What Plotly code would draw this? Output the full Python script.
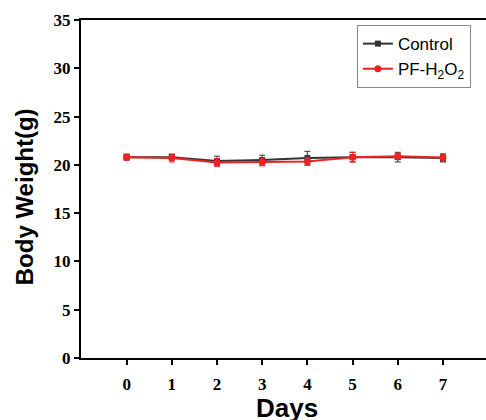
import plotly.graph_objects as go

days = [0, 1, 2, 3, 4, 5, 6, 7]
control = [20.8, 20.8, 20.4, 20.5, 20.7, 20.8, 20.8, 20.7]
control_err = [0.3, 0.3, 0.5, 0.5, 0.7, 0.5, 0.5, 0.4]
pf = [20.8, 20.7, 20.25, 20.3, 20.35, 20.8, 20.9, 20.75]
pf_err = [0.3, 0.4, 0.4, 0.4, 0.4, 0.5, 0.3, 0.4]
y_ticks = [0, 5, 10, 15, 20, 25, 30, 35]

fig = go.Figure()
fig.add_trace(go.Scatter(
    x=days, y=control, name="Control", mode="lines+markers",
    line=dict(color="#333333", width=2),
    marker=dict(symbol="square", size=6, color="#333333"),
    error_y=dict(type="data", array=control_err, color="#333333", thickness=1, width=3),
))
fig.add_trace(go.Scatter(
    x=days, y=pf, name="PF-H<sub>2</sub>O<sub>2</sub>", mode="lines+markers",
    line=dict(color="#ee2222", width=2),
    marker=dict(symbol="circle", size=7, color="#ee2222"),
    error_y=dict(type="data", array=pf_err, color="#ee2222", thickness=1, width=3),
))

fig.update_layout(
    width=494, height=420,
    margin=dict(l=81, r=0, t=20, b=62),
    plot_bgcolor="white", paper_bgcolor="white",
    showlegend=True,
    legend=dict(
        x=0.668, y=0.985, xanchor="left", yanchor="top",
        bordercolor="#888888", borderwidth=1, bgcolor="white",
        font=dict(family="Liberation Sans, Arial", size=17, color="black"),
        tracegroupgap=0, itemwidth=30,
    ),
    annotations=[
        dict(text="<b>Days</b>", xref="paper", yref="paper", x=0.4976, y=-0.148,
             xanchor="center", yanchor="middle", showarrow=False,
             font=dict(family="Liberation Sans, Arial", size=26, color="black")),
        dict(text="<b>Body Weight(g)</b>", xref="paper", yref="paper", x=-0.136, y=0.478,
             xanchor="center", yanchor="middle", showarrow=False, textangle=-90,
             font=dict(family="Liberation Sans, Arial", size=24, color="black")),
    ],
)
fig.update_xaxes(
    range=[-1.01, 8.13], tickvals=days, ticktext=[str(d) for d in days],
    showline=True, linecolor="black", linewidth=2, mirror=True,
    ticks="outside", ticklen=5, tickwidth=2, tickcolor="black",
    showgrid=False, zeroline=False, ticklabelstandoff=5, automargin=False,
    tickfont=dict(family="Liberation Serif, Times New Roman", size=17, color="black", weight="bold"),
)
fig.update_yaxes(
    range=[0, 35], tickvals=y_ticks,
    showline=True, linecolor="black", linewidth=2, mirror=False,
    ticks="outside", ticklen=5, tickwidth=2, tickcolor="black",
    showgrid=False, zeroline=False, automargin=False,
    tickfont=dict(family="Liberation Serif, Times New Roman", size=17, color="black", weight="bold"),
)

fig.write_html(
    "out.html", config={"displayModeBar": False},
    post_script=(
        "document.documentElement.style.overflow='hidden';"
        "document.body.style.margin='0';document.body.style.overflow='hidden';"
    ),
)
